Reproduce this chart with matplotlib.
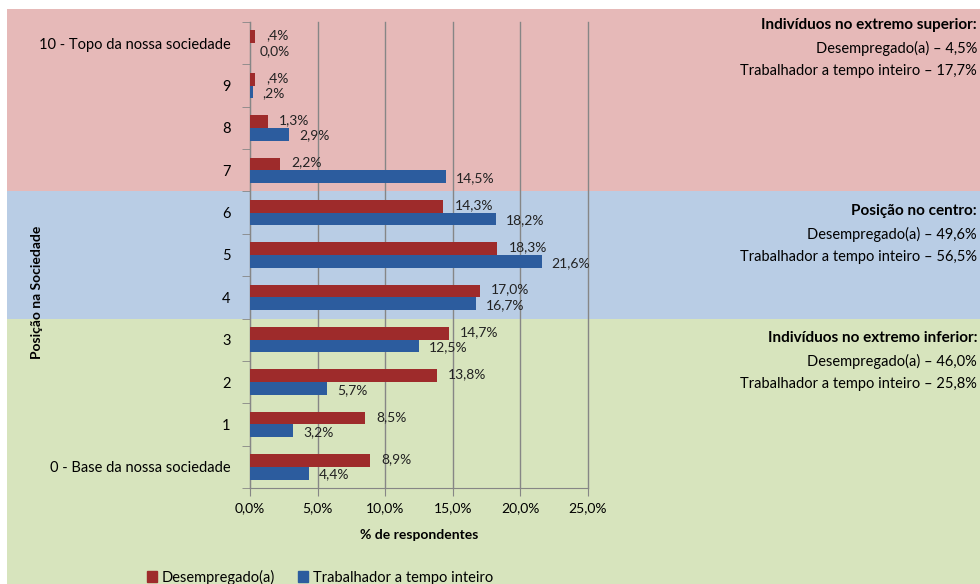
import matplotlib
matplotlib.use("Agg")
import matplotlib.pyplot as plt
import numpy as np
from matplotlib.patches import Rectangle

# Position in society, bottom (0) to top (10)
categories = ["0 - Base da nossa sociedade", "1", "2", "3", "4", "5", "6", "7", "8", "9",
              "10 - Topo da nossa sociedade"]
desempregado = [8.9, 8.5, 13.8, 14.7, 17.0, 18.3, 14.3, 2.2, 1.3, 0.4, 0.4]
trabalhador = [4.4, 3.2, 5.7, 12.5, 16.7, 21.6, 18.2, 14.5, 2.9, 0.2, 0.0]
xticks = [0, 5, 10, 15, 20, 25]

# Side notes per band: (title, unemployed, full-time)
notes_top = ("Indivíduos no extremo superior:", "Desempregado(a) – 4,5%",
             "Trabalhador a tempo inteiro – 17,7%")
notes_mid = ("Posição no centro:", "Desempregado(a) – 49,6%",
             "Trabalhador a tempo inteiro – 56,5%")
notes_low = ("Indivíduos no extremo inferior:", "Desempregado(a) – 46,0%",
             "Trabalhador a tempo inteiro – 25,8%")

RED = "#9E2B2B"
BLUE = "#2C5C9E"
PINK_BG = "#E6B9B8"
BLUE_BG = "#B9CDE5"
GREEN_BG = "#D7E4BD"
FONT = ["Lato", "DejaVu Sans"]


def pt_label(v):
    # Excel-style Portuguese percent: ",4%" for values below 1
    s = f"{v:.1f}".replace(".", ",")
    if 0 < v < 1:
        s = s[1:]
    return s + "%"


plt.rcParams["font.family"] = FONT
W, H = 980, 584
fig = plt.figure(figsize=(W / 100, H / 100), dpi=100)
ax = fig.add_axes([250 / W, 1 - 488 / H, 338 / W, 466 / H])
ax.patch.set_visible(False)

y = np.arange(len(categories))
h = 0.3
ax.barh(y + h / 2, desempregado, height=h, color=RED, zorder=3)
ax.barh(y - h / 2, trabalhador, height=h, color=BLUE, zorder=3)

for yi, v in zip(y, desempregado):
    ax.annotate(pt_label(v), (v, yi + h / 2), xytext=(8, 1), textcoords="offset points",
                va="center", ha="left", fontsize=10, color="#222222", zorder=4)
for yi, v in zip(y, trabalhador):
    ax.annotate(pt_label(v), (v, yi - h / 2), xytext=(7, -1), textcoords="offset points",
                va="center", ha="left", fontsize=10, color="#222222", zorder=4)

ax.set_xlim(0, 25)
ax.set_ylim(-0.5, len(categories) - 0.5)
ax.set_xticks(xticks)
ax.set_xticklabels([f"{t:.1f}%".replace(".", ",") for t in xticks], fontsize=10)
ax.set_yticks(y)
ax.set_yticklabels(categories, fontsize=10.5)
ax.set_yticks(np.arange(-0.5, len(categories), 1), minor=True)
ax.tick_params(axis="y", which="major", length=0, pad=14)
ax.tick_params(axis="y", which="minor", length=6, color="#868686")
ax.tick_params(axis="x", length=6, color="#868686", pad=4)
ax.grid(axis="x", color="#868686", linewidth=1, zorder=1)
for gl in ax.get_xgridlines():
    gl.set_clip_on(False)
for side in ("top", "right"):
    ax.spines[side].set_visible(False)
for side in ("left", "bottom"):
    ax.spines[side].set_color("#868686")
ax.set_xlabel("% de respondentes", fontsize=10, fontweight="bold", labelpad=11)
ax.set_ylabel("Posição na Sociedade", fontsize=10, fontweight="bold", labelpad=0)
ax.yaxis.set_label_coords(43 / W, 0.5, transform=fig.transFigure)

# Background bands, aligned with category boundaries
to_fig = fig.transFigure.inverted()
b_top = to_fig.transform(ax.transData.transform((0, 6.5)))[1]
b_low = to_fig.transform(ax.transData.transform((0, 3.5)))[1]
x0 = 7 / W
top = 1 - 9 / H
for ylo, yhi, c in [(b_top, top, PINK_BG), (b_low, b_top, BLUE_BG), (0, b_low, GREEN_BG)]:
    fig.patches.append(Rectangle((x0, ylo), 1 - x0, yhi - ylo, transform=fig.transFigure,
                                 facecolor=c, edgecolor="none", zorder=-5))

# Side notes
for (title, l1, l2), ytop in [(notes_top, 25), (notes_mid, 211), (notes_low, 338)]:
    xr = 977 / W
    fig.text(xr, 1 - ytop / H, title, ha="right", va="center", fontsize=11, fontweight="bold")
    fig.text(xr, 1 - (ytop + 23) / H, l1, ha="right", va="center", fontsize=10.5)
    fig.text(xr, 1 - (ytop + 46) / H, l2, ha="right", va="center", fontsize=10.5)

handles = [Rectangle((0, 0), 1, 1, color=RED), Rectangle((0, 0), 1, 1, color=BLUE)]
fig.legend(handles, ["Desempregado(a)", "Trabalhador a tempo inteiro"], loc="center",
           bbox_to_anchor=(320 / W, 1 - 577 / H), ncol=2, frameon=False, fontsize=10.5,
           handlelength=0.7, handleheight=0.7, handletextpad=0.3, columnspacing=1.6)

fig.savefig("out.png", dpi=100)
